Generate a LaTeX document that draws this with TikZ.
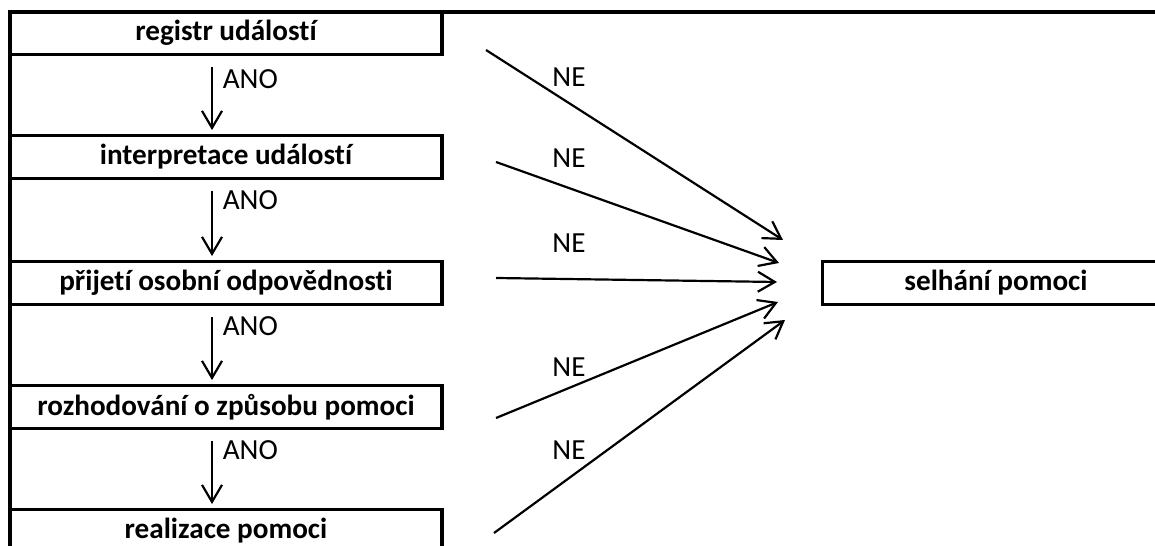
\documentclass[tikz,border=0pt]{standalone}
\usepackage{fontspec}
\setmainfont{Carlito}[Ligatures=NoCommon]
\usetikzlibrary{arrows.meta,positioning}
\tikzset{
    %Define standard arrow tip
    >={Straight Barb[length=0.34cm,width=0.40cm]},
    %Define style for boxes
    box/.style={
           rectangle,
           draw=black, line width=2.2pt,
           minimum width=8.64cm,
           minimum height=0.86cm,
           inner sep=0pt,
           font=\bfseries},
    % Define arrow styles
    yes/.style={
           ->,
           line width=1.25pt,
           shorten <=6pt,
           shorten >=2pt},
    no/.style={
           ->,
           line width=1.25pt},
    frame/.style={
           line width=2.2pt}
}

\begin{document}
\fontsize{16.6}{19.5}\selectfont
\begin{tikzpicture}[x=0.02cm, y=-0.02cm]
 \clip (0,0) rectangle (1155,546);
 %frame
    \draw[frame] (10,560) -- (10,12) -- (1160,12);
 %nodes
    \node[box] (reg) at (226,33) {registr událostí};
    \node[box] (int) at (226,157) {interpretace událostí};
    \node[box] (resp) at (226,283) {přijetí osobní odpovědnosti};
    \node[box] (dec) at (226,407) {rozhodování o způsobu pomoci};
    \node[box] (real) at (226,531) {realizace pomoci};
    \node[box, minimum width=6.94cm] (fail) at (996,283) {selhání pomoci};
 %free ends of the NE arrows
    \coordinate (s1) at (486,50);
    \coordinate (s2) at (496,162);
    \coordinate (s3) at (496,278);
    \coordinate (s4) at (496,418);
    \coordinate (s5) at (494,533);
    \coordinate (t1) at (783,240);
    \coordinate (t2) at (779,263);
    \coordinate (t3) at (777,282);
    \coordinate (t4) at (778,302);
    \coordinate (t5) at (785,320);
 %edges
    \draw[yes] ([xshift=-0.28cm]reg.south) to node[pos=0.3, right] {ANO} ([xshift=-0.28cm]int.north);
    \draw[yes] ([xshift=-0.28cm]int.south) to node[pos=0.25, right] {ANO} ([xshift=-0.28cm]resp.north);
    \draw[yes] ([xshift=-0.28cm]resp.south) to node[pos=0.25, right] {ANO} ([xshift=-0.28cm]dec.north);
    \draw[yes] ([xshift=-0.28cm]dec.south) to node[pos=0.25, right] {ANO} ([xshift=-0.28cm]real.north);
    \foreach \i in {1,...,5}
        \draw[no] (s\i) -- (t\i);
 %labels
    \node (ne1) at (569,77) {NE};
    \node (ne2) at (569,158) {NE};
    \node (ne3) at (569,243) {NE};
    \node (ne4) at (569,367) {NE};
    \node (ne5) at (569,450) {NE};
\end{tikzpicture}
\end{document}
